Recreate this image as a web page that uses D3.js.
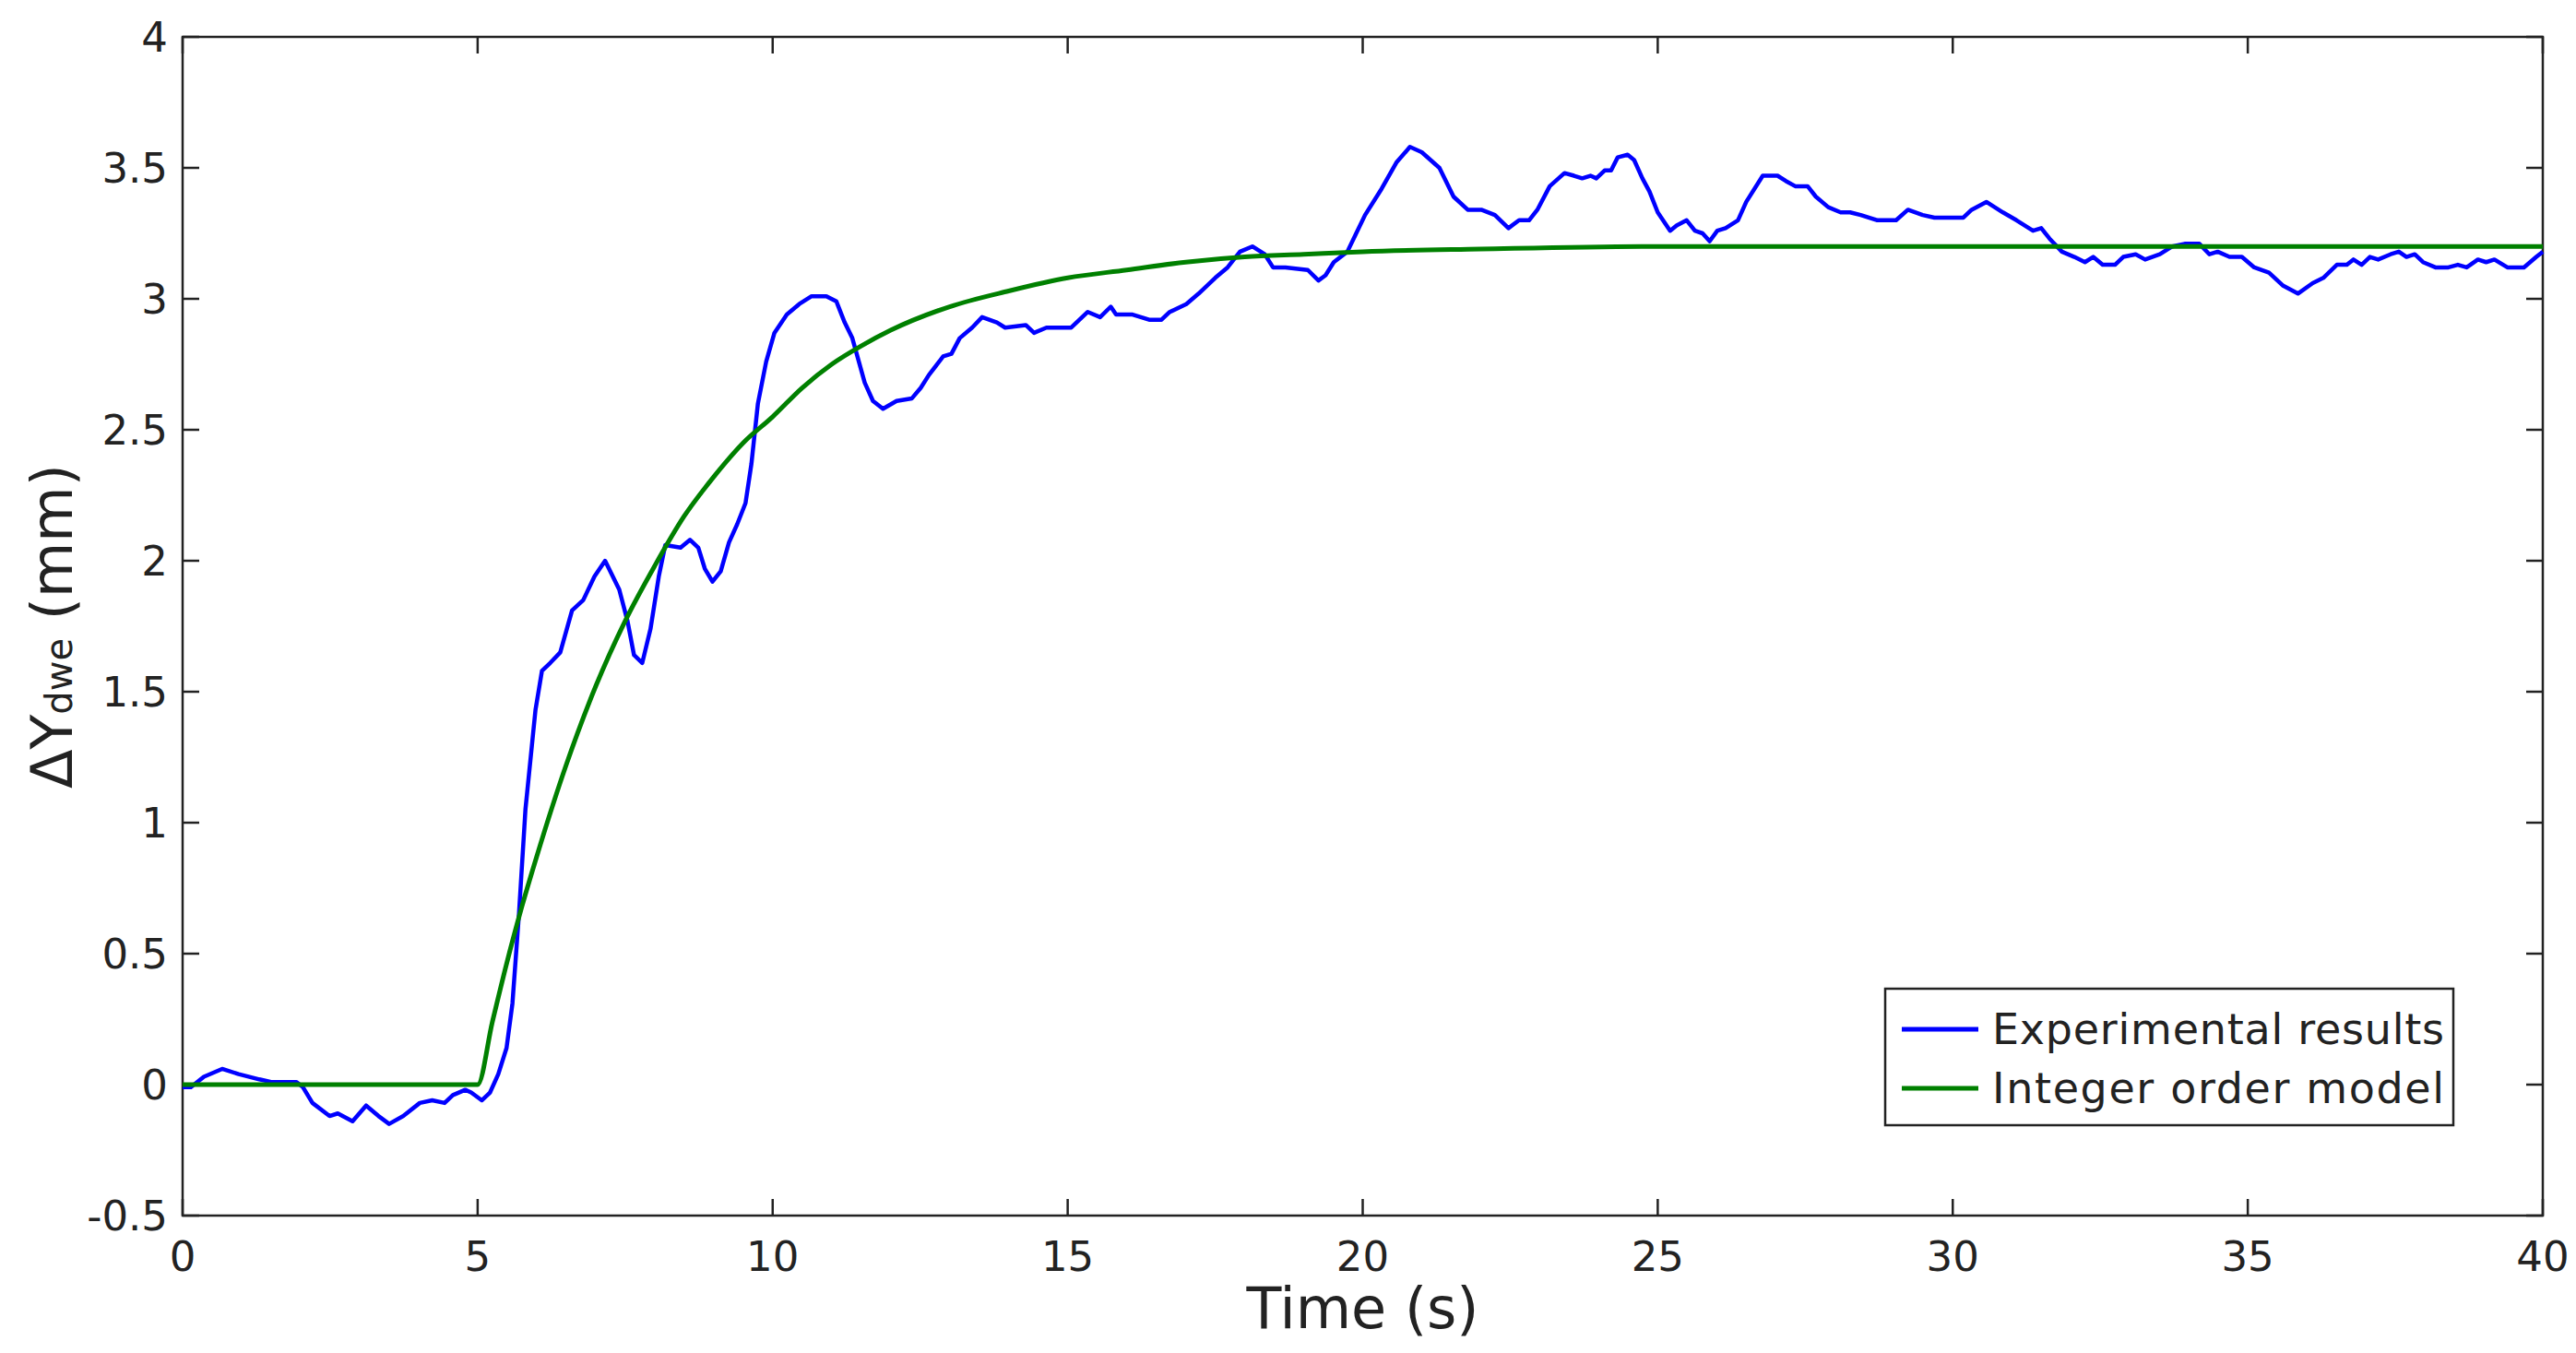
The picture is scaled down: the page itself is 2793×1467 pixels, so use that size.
<!DOCTYPE html>
<html><head><meta charset="utf-8">
<script src="https://cdn.jsdelivr.net/npm/d3@7"></script>
<style>body{margin:0;background:#fff}svg{display:block}text{font-family:"DejaVu Sans",Verdana,sans-serif;fill:#222}</style>
</head><body>
<script>
const expT = [0,0.14,0.36,0.67,0.95,1.3,1.5,1.93,2.04,2.2,2.49,2.63,2.88,3.11,3.32,3.5,3.74,4.02,4.23,4.44,4.58,4.79,4.89,5.07,5.21,5.35,5.49,5.59,5.7,5.81,5.98,6.09,6.23,6.4,6.6,6.79,6.98,7.16,7.4,7.54,7.65,7.79,7.93,8.07,8.18,8.44,8.6,8.74,8.85,8.98,9.12,9.26,9.4,9.54,9.64,9.75,9.89,10.03,10.24,10.45,10.66,10.91,11.08,11.22,11.35,11.56,11.7,11.87,12.1,12.36,12.51,12.65,12.89,13.03,13.17,13.38,13.55,13.8,13.94,14.29,14.43,14.64,14.78,15.06,15.34,15.55,15.73,15.82,16.1,16.38,16.59,16.73,17.01,17.22,17.5,17.71,17.92,18.13,18.34,18.48,18.69,19.07,19.25,19.37,19.51,19.74,20.04,20.32,20.57,20.8,21.0,21.3,21.54,21.78,22.01,22.24,22.47,22.65,22.82,22.96,23.17,23.42,23.58,23.72,23.86,23.96,24.1,24.21,24.32,24.49,24.6,24.74,24.86,25.0,25.21,25.32,25.49,25.63,25.76,25.88,26.01,26.15,26.36,26.5,26.78,27.03,27.17,27.33,27.54,27.68,27.89,28.1,28.26,28.44,28.72,29.04,29.24,29.49,29.69,29.9,30.18,30.32,30.57,30.71,30.85,31.08,31.36,31.5,31.64,31.85,32.06,32.24,32.38,32.54,32.75,32.89,33.1,33.26,33.51,33.72,33.93,34.18,34.35,34.49,34.69,34.9,35.11,35.36,35.6,35.85,36.1,36.28,36.51,36.68,36.79,36.93,37.07,37.21,37.42,37.56,37.69,37.83,37.97,38.18,38.4,38.56,38.71,38.9,39.04,39.18,39.4,39.68,39.89,40.0];
const expV = [-0.01,-0.01,0.03,0.06,0.04,0.02,0.01,0.01,-0.01,-0.07,-0.12,-0.11,-0.14,-0.08,-0.12,-0.15,-0.12,-0.07,-0.06,-0.07,-0.04,-0.02,-0.03,-0.06,-0.03,0.04,0.14,0.31,0.65,1.05,1.43,1.58,1.61,1.65,1.81,1.85,1.94,2.0,1.89,1.77,1.64,1.61,1.74,1.94,2.06,2.05,2.08,2.05,1.97,1.92,1.96,2.07,2.14,2.22,2.37,2.6,2.76,2.87,2.94,2.98,3.01,3.01,2.99,2.91,2.85,2.68,2.61,2.58,2.61,2.62,2.66,2.71,2.78,2.79,2.85,2.89,2.93,2.91,2.89,2.9,2.87,2.89,2.89,2.89,2.95,2.93,2.97,2.94,2.94,2.92,2.92,2.95,2.98,3.02,3.08,3.12,3.18,3.2,3.17,3.12,3.12,3.11,3.07,3.09,3.14,3.18,3.32,3.42,3.52,3.58,3.56,3.5,3.39,3.34,3.34,3.32,3.27,3.3,3.3,3.34,3.43,3.48,3.47,3.46,3.47,3.46,3.49,3.49,3.54,3.55,3.53,3.46,3.41,3.33,3.26,3.28,3.3,3.26,3.25,3.22,3.26,3.27,3.3,3.37,3.47,3.47,3.45,3.43,3.43,3.39,3.35,3.33,3.33,3.32,3.3,3.3,3.34,3.32,3.31,3.31,3.31,3.34,3.37,3.35,3.33,3.3,3.26,3.27,3.23,3.18,3.16,3.14,3.16,3.13,3.13,3.16,3.17,3.15,3.17,3.2,3.21,3.21,3.17,3.18,3.16,3.16,3.12,3.1,3.05,3.02,3.06,3.08,3.13,3.13,3.15,3.13,3.16,3.15,3.17,3.18,3.16,3.17,3.14,3.12,3.12,3.13,3.12,3.15,3.14,3.15,3.12,3.12,3.16,3.18];
const modT = [0,5,5.25,5.5,5.75,6,6.5,7,7.5,8,8.5,9,9.5,10,10.5,11,11.5,12,13,14,15,16,17,18,19,20,22,25,30,40];
const modV = [0,0,0.24,0.47,0.68,0.87,1.22,1.52,1.77,1.98,2.17,2.32,2.45,2.55,2.66,2.75,2.82,2.88,2.97,3.03,3.08,3.11,3.14,3.16,3.17,3.18,3.19,3.2,3.2,3.2];
const xTicks = [0,5,10,15,20,25,30,35,40];
const yTicks = [-0.5,0,0.5,1,1.5,2,2.5,3,3.5,4];
const seriesNames = ["Experimental results","Integer order model"];

const W=2793,H=1467, L=198,R=2757,T=40,B=1318;
const svg=d3.select("body").append("svg").attr("width",W).attr("height",H);
const x=d3.scaleLinear().domain([0,40]).range([L,R]);
const y=d3.scaleLinear().domain([-0.5,4]).range([B,T]);
const tl=18;
const g=svg.append("g");
xTicks.forEach(t=>{
  g.append("line").attr("x1",x(t)).attr("x2",x(t)).attr("y1",B).attr("y2",B-tl).attr("stroke","#222").attr("stroke-width",2.5);
  g.append("line").attr("x1",x(t)).attr("x2",x(t)).attr("y1",T).attr("y2",T+tl).attr("stroke","#222").attr("stroke-width",2.5);
  g.append("text").attr("x",x(t)).attr("y",B+60).attr("text-anchor","middle").attr("font-size",45).text(t);
});
yTicks.forEach(t=>{
  g.append("line").attr("x1",L).attr("x2",L+tl).attr("y1",y(t)).attr("y2",y(t)).attr("stroke","#222").attr("stroke-width",2.5);
  g.append("line").attr("x1",R).attr("x2",R-tl).attr("y1",y(t)).attr("y2",y(t)).attr("stroke","#222").attr("stroke-width",2.5);
  g.append("text").attr("x",L-16).attr("y",y(t)+16).attr("text-anchor","end").attr("font-size",45).text(t);
});
g.append("rect").attr("x",L).attr("y",T).attr("width",R-L).attr("height",B-T).attr("fill","none").attr("stroke","#222").attr("stroke-width",2.5);

const line=d3.line().x(d=>x(d[0])).y(d=>y(d[1]));
const mline=d3.line().x(d=>x(d[0])).y(d=>y(d[1])).curve(d3.curveMonotoneX);
svg.append("path").attr("d",line(expT.map((t,i)=>[t,expV[i]]))).attr("fill","none").attr("stroke","#0000ff").attr("stroke-width",4.5).attr("stroke-linejoin","round");
svg.append("path").attr("d",mline(modT.map((t,i)=>[t,modV[i]]))).attr("fill","none").attr("stroke","#008000").attr("stroke-width",5);

const lg=svg.append("g");
lg.append("rect").attr("x",2044).attr("y",1072).attr("width",616).attr("height",148).attr("fill","#fff").attr("stroke","#222").attr("stroke-width",2.5);
const cols=["#0000ff","#008000"];
seriesNames.forEach((n,i)=>{
  const yy=1116+i*64;
  lg.append("line").attr("x1",2062).attr("x2",2145).attr("y1",yy).attr("y2",yy).attr("stroke",cols[i]).attr("stroke-width",5);
  lg.append("text").attr("x",2160).attr("y",yy+16).attr("font-size",46).attr("textLength",490).text(n);
});
svg.append("text").attr("x",(L+R)/2).attr("y",1440).attr("text-anchor","middle").attr("font-size",62).text("Time (s)");
const yt=svg.append("text").attr("transform","translate(78,"+((T+B)/2)+") rotate(-90)").attr("text-anchor","middle").attr("font-size",62);
yt.append("tspan").text("ΔY");
yt.append("tspan").attr("font-size",40).text("dwe");
yt.append("tspan").text(" (mm)");
</script>
</body></html>
